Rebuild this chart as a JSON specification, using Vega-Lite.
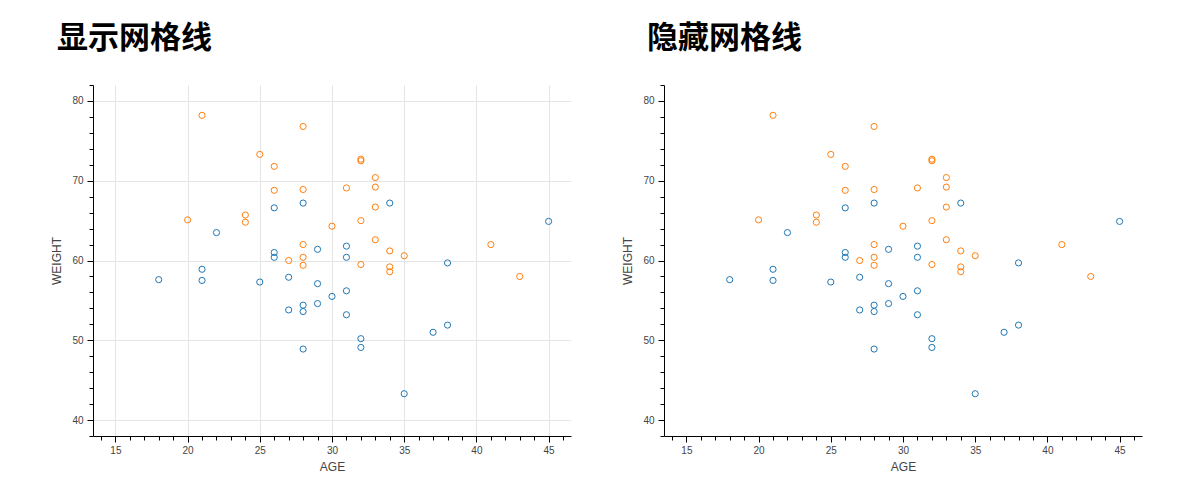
{
  "$schema": "https://vega.github.io/schema/vega-lite/v6.json",
  "padding": {"left": 50, "top": 22, "right": 5, "bottom": 5},
  "config": {"view": {"stroke": null}, "font": "Liberation Sans", "concat": {"spacing": 50}},
  "datasets": {
    "people": [
      {"age": 21, "weight": 78.2, "group": "B"},
      {"age": 28, "weight": 76.8, "group": "B"},
      {"age": 25, "weight": 73.3, "group": "B"},
      {"age": 26, "weight": 71.8, "group": "B"},
      {"age": 26, "weight": 68.8, "group": "B"},
      {"age": 28, "weight": 68.9, "group": "B"},
      {"age": 20, "weight": 65.1, "group": "B"},
      {"age": 24, "weight": 65.7, "group": "B"},
      {"age": 24, "weight": 64.8, "group": "B"},
      {"age": 30, "weight": 64.3, "group": "B"},
      {"age": 28, "weight": 62.0, "group": "B"},
      {"age": 27, "weight": 60.0, "group": "B"},
      {"age": 28, "weight": 60.4, "group": "B"},
      {"age": 28, "weight": 59.4, "group": "B"},
      {"age": 32, "weight": 72.7, "group": "B"},
      {"age": 32, "weight": 72.5, "group": "B"},
      {"age": 33, "weight": 70.4, "group": "B"},
      {"age": 31, "weight": 69.1, "group": "B"},
      {"age": 33, "weight": 69.2, "group": "B"},
      {"age": 33, "weight": 66.7, "group": "B"},
      {"age": 32, "weight": 65.0, "group": "B"},
      {"age": 41, "weight": 62.0, "group": "B"},
      {"age": 32, "weight": 59.5, "group": "B"},
      {"age": 34, "weight": 59.2, "group": "B"},
      {"age": 34, "weight": 58.6, "group": "B"},
      {"age": 35, "weight": 60.6, "group": "B"},
      {"age": 43, "weight": 58.0, "group": "B"},
      {"age": 34, "weight": 61.2, "group": "B"},
      {"age": 33, "weight": 62.6, "group": "B"},
      {"age": 26, "weight": 66.6, "group": "A"},
      {"age": 28, "weight": 67.2, "group": "A"},
      {"age": 22, "weight": 63.5, "group": "A"},
      {"age": 29, "weight": 61.4, "group": "A"},
      {"age": 26, "weight": 61.0, "group": "A"},
      {"age": 26, "weight": 60.4, "group": "A"},
      {"age": 18, "weight": 57.6, "group": "A"},
      {"age": 21, "weight": 58.9, "group": "A"},
      {"age": 21, "weight": 57.5, "group": "A"},
      {"age": 25, "weight": 57.3, "group": "A"},
      {"age": 27, "weight": 57.9, "group": "A"},
      {"age": 29, "weight": 57.1, "group": "A"},
      {"age": 30, "weight": 55.5, "group": "A"},
      {"age": 29, "weight": 54.6, "group": "A"},
      {"age": 28, "weight": 54.4, "group": "A"},
      {"age": 28, "weight": 53.6, "group": "A"},
      {"age": 27, "weight": 53.8, "group": "A"},
      {"age": 28, "weight": 48.9, "group": "A"},
      {"age": 34, "weight": 67.2, "group": "A"},
      {"age": 31, "weight": 61.8, "group": "A"},
      {"age": 31, "weight": 60.4, "group": "A"},
      {"age": 45, "weight": 64.9, "group": "A"},
      {"age": 38, "weight": 59.7, "group": "A"},
      {"age": 31, "weight": 56.2, "group": "A"},
      {"age": 31, "weight": 53.2, "group": "A"},
      {"age": 32, "weight": 50.2, "group": "A"},
      {"age": 32, "weight": 49.1, "group": "A"},
      {"age": 37, "weight": 51.0, "group": "A"},
      {"age": 38, "weight": 51.9, "group": "A"},
      {"age": 35, "weight": 43.3, "group": "A"}
    ]
  },
  "hconcat": [
    {
      "title": {"text": "显示网格线", "anchor": "start", "frame": "group", "dx": -36, "fontSize": 31, "font": "Noto Sans CJK SC", "fontWeight": "bold", "color": "#000000", "offset": 30},
      "width": 478,
      "height": 351,
      "data": {"name": "people"},
      "layer": [
        {
          "mark": {"type": "point", "filled": false, "size": 38, "strokeWidth": 1, "opacity": 1},
          "encoding": {
            "x": {"field": "age", "type": "quantitative", "scale": {"domain": [13.45, 46.55], "nice": false, "zero": false},
              "axis": {"orient": "bottom", "values": [15, 20, 25, 30, 35, 40, 45], "grid": true, "gridColor": "#e5e5e5", "gridWidth": 1, "tickSize": 6, "tickColor": "#000000", "domainColor": "#000000", "labelFontSize": 10, "labelColor": "#444444", "labelPadding": 3, "title": "AGE", "titleFontSize": 12, "titleFontWeight": "normal", "titleColor": "#444444", "titlePadding": 6}},
            "y": {"field": "weight", "type": "quantitative", "scale": {"domain": [38, 82], "nice": false, "zero": false},
              "axis": {"orient": "left", "values": [40, 50, 60, 70, 80], "grid": true, "gridColor": "#e5e5e5", "gridWidth": 1, "tickSize": 6, "tickColor": "#000000", "domainColor": "#000000", "labelFontSize": 10, "labelColor": "#444444", "labelPadding": 4, "title": "WEIGHT", "titleFontSize": 12, "titleFontWeight": "normal", "titleColor": "#444444", "titlePadding": 8}},
            "color": {"field": "group", "type": "nominal", "scale": {"domain": ["A", "B"], "range": ["#1f77b4", "#ff7f0e"]}, "legend": null}
          }
        },
        {
          "mark": {"type": "point", "opacity": 0},
          "encoding": {
            "x": {"field": "age", "type": "quantitative", "axis": {"orient": "bottom", "values": [14, 16, 17, 18, 19, 21, 22, 23, 24, 26, 27, 28, 29, 31, 32, 33, 34, 36, 37, 38, 39, 41, 42, 43, 44, 46], "labels": false, "grid": false, "domain": false, "tickSize": 4, "tickColor": "#000000", "title": null}},
            "y": {"field": "weight", "type": "quantitative", "axis": {"orient": "left", "values": [38, 42, 44, 46, 48, 52, 54, 56, 58, 62, 64, 66, 68, 72, 74, 76, 78, 82], "labels": false, "grid": false, "domain": false, "tickSize": 4, "tickColor": "#000000", "title": null}}
          }
        }
      ],
      "resolve": {"axis": {"x": "independent", "y": "independent"}}
    },
    {
      "title": {"text": "隐藏网格线", "anchor": "start", "frame": "group", "dx": -17, "fontSize": 31, "font": "Noto Sans CJK SC", "fontWeight": "bold", "color": "#000000", "offset": 30},
      "width": 478,
      "height": 351,
      "data": {"name": "people"},
      "layer": [
        {
          "mark": {"type": "point", "filled": false, "size": 38, "strokeWidth": 1, "opacity": 1},
          "encoding": {
            "x": {"field": "age", "type": "quantitative", "scale": {"domain": [13.45, 46.55], "nice": false, "zero": false},
              "axis": {"orient": "bottom", "values": [15, 20, 25, 30, 35, 40, 45], "grid": false, "tickSize": 6, "tickColor": "#000000", "domainColor": "#000000", "labelFontSize": 10, "labelColor": "#444444", "labelPadding": 3, "title": "AGE", "titleFontSize": 12, "titleFontWeight": "normal", "titleColor": "#444444", "titlePadding": 6}},
            "y": {"field": "weight", "type": "quantitative", "scale": {"domain": [38, 82], "nice": false, "zero": false},
              "axis": {"orient": "left", "values": [40, 50, 60, 70, 80], "grid": false, "tickSize": 6, "tickColor": "#000000", "domainColor": "#000000", "labelFontSize": 10, "labelColor": "#444444", "labelPadding": 4, "title": "WEIGHT", "titleFontSize": 12, "titleFontWeight": "normal", "titleColor": "#444444", "titlePadding": 8}},
            "color": {"field": "group", "type": "nominal", "scale": {"domain": ["A", "B"], "range": ["#1f77b4", "#ff7f0e"]}, "legend": null}
          }
        },
        {
          "mark": {"type": "point", "opacity": 0},
          "encoding": {
            "x": {"field": "age", "type": "quantitative", "axis": {"orient": "bottom", "values": [14, 16, 17, 18, 19, 21, 22, 23, 24, 26, 27, 28, 29, 31, 32, 33, 34, 36, 37, 38, 39, 41, 42, 43, 44, 46], "labels": false, "grid": false, "domain": false, "tickSize": 4, "tickColor": "#000000", "title": null}},
            "y": {"field": "weight", "type": "quantitative", "axis": {"orient": "left", "values": [38, 42, 44, 46, 48, 52, 54, 56, 58, 62, 64, 66, 68, 72, 74, 76, 78, 82], "labels": false, "grid": false, "domain": false, "tickSize": 4, "tickColor": "#000000", "title": null}}
          }
        }
      ],
      "resolve": {"axis": {"x": "independent", "y": "independent"}}
    }
  ]
}
